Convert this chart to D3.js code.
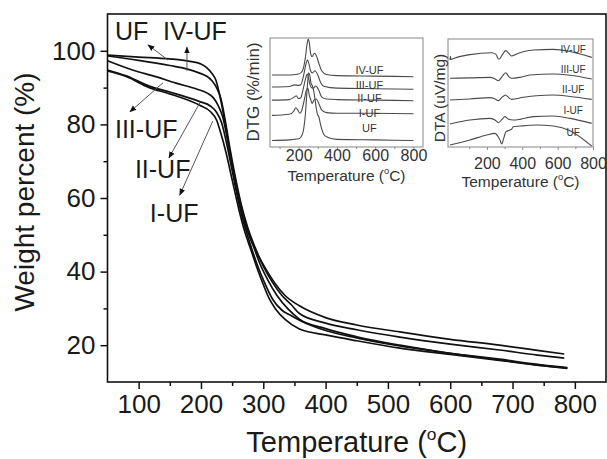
<!DOCTYPE html>
<html><head><meta charset="utf-8">
<script src="https://cdnjs.cloudflare.com/ajax/libs/d3/7.8.5/d3.min.js"></script>
<style>body{margin:0;background:#fff} svg{display:block} text{font-family:"Liberation Sans",Arial,sans-serif}</style>
</head><body><svg id="c" width="607" height="459"></svg>
<script>
// ---------- data: main TGA curves [T (°C), weight %] ----------
const tgaUF = [[50,98.8],[100,98.3],[150,97.8],[180,97.2],[200,96.4],[210,95.3],[217,94],[224,92],[230,88],[237,82],[244,75],[252,67],[260,60],[269,54],[279,49],[290,45],[303,41],[318,37],[335,33.5],[358,30.7],[400,27.5],[450,25.5],[519,23.6],[600,21.6],[679,20],[740,18.6],[783,17.6]];
const tgaIV = [[50,98.6],[100,97.4],[150,96],[177,95.1],[200,93.8],[210,93],[218,91.8],[225,90],[232,87],[239,81],[247,73],[256,65],[265,58],[275,52],[287,46.5],[300,41.5],[315,37],[330,33.5],[345,31],[358,28.6],[400,26],[450,24.2],[519,22.2],[600,20.3],[679,18.7],[740,17.3],[783,16.5]];
const tgaIII = [[50,97.3],[90,94.8],[129,92.9],[160,91.2],[193,89.6],[210,88.5],[220,87.2],[228,85],[235,82],[243,75.5],[252,67.5],[262,59.5],[272,53],[283,47.5],[295,42],[308,37.5],[322,33.5],[340,29.8],[358,27.1],[400,24.5],[450,22.3],[519,20],[600,17.8],[679,16.2],[740,14.8],[788,13.9]];
const tgaII = [[50,94.8],[80,93.2],[117,90.4],[150,88.8],[198,86.2],[215,85],[225,83.3],[233,80.5],[241,75],[250,67.5],[259,60],[269,53],[279,47.5],[290,42],[302,37],[315,32.5],[330,29.5],[345,28],[358,26.8],[400,24],[450,22],[519,19.8],[600,17.8],[679,16],[740,14.6],[788,13.8]];
const tgaI = [[50,94.5],[80,93],[117,90],[150,88.3],[198,85.2],[215,83.5],[225,81.2],[232,77.5],[240,72.5],[250,65],[260,57.5],[270,51],[280,46],[290,41],[300,36.5],[310,32.5],[320,29.8],[335,27],[358,24.4],[400,22.8],[450,21.2],[519,19.2],[600,17.5],[679,15.9],[740,14.6],[788,13.7]];
const tgaSeries = [tgaUF, tgaIV, tgaIII, tgaII, tgaI];
const xTicks = [100,200,300,400,500,600,700,800];
const xMinor = [150,250,350,450,550,650,750];
const yTicks = [20,40,60,80,100];
const yMinor = [30,50,70,90];

// ---------- labels and arrows (data coords) ----------
const labelNames = ["UF","IV-UF","III-UF","II-UF","I-UF"];
const labelAt = [[62,102.9],[139,102.9],[62,76.3],[94,65.4],[118,53.5]];
const arrowFrom = [[147,97.5],[177.5,94.5],[139,91.3],[198,85.8],[219,80.9]];
const arrowTo = [[115,101.6],[177.5,101.0],[86,83.4],[148.6,70.9],[166,60.8]];

// ---------- DTG inset [T, offset value] ----------
const dtgUF = [[60,6],[150,6.5],[200,7.5],[220,12],[235,30],[245,55],[252,68],[258,66],[265,58],[272,56],[280,50],[290,38],[298,30],[305,28],[315,20],[330,12],[350,9],[400,7],[600,6.5],[800,6]];
const dtgI = [[60,29],[150,30],[175,33],[185,36],[195,34],[205,31],[215,33],[228,42],[240,52],[248,54],[256,47],[262,44],[270,40],[280,43],[292,44],[305,40],[320,34],[345,31.5],[400,31],[600,31],[800,30.5]];
const dtgII = [[60,43],[150,43.5],[178,46],[188,47],[198,44.5],[210,45],[222,52],[235,62],[245,67],[252,63],[258,58],[265,55],[275,54],[290,56],[305,52],[320,46],[345,44],[400,43.5],[600,43],[800,42.5]];
const dtgIII = [[60,55],[150,55.5],[180,57],[195,56.5],[210,57],[225,65],[238,76],[246,80],[254,76],[262,70],[272,68],[285,70],[300,66],[315,59],[335,55.5],[400,54],[600,53.5],[800,53]];
const dtgIV = [[60,66],[150,66],[200,67],[220,70],[235,82],[245,96],[250,99],[256,95],[262,86],[270,83],[282,86],[292,84],[305,77],[320,70],[345,66.5],[400,65.5],[600,65],[800,64.5]];
const dtgSeries = [dtgIV, dtgIII, dtgII, dtgI, dtgUF];
const insetNames = ["IV-UF","III-UF","II-UF","I-UF","UF"];
const dtgLabelAt = [[570,67],[570,53],[570,41],[570,27.5],[570,13.8]];

// ---------- DTA inset ----------
const dtaIV = [[-9,80.6],[-6,84],[-4,81],[20,82.5],[104,85.5],[227,87.3],[250,86],[268,81.2],[290,86],[306,89.2],[325,86.5],[340,84.3],[369,86.1],[400,88],[462,89.8],[576,90.4],[670,88.5],[793,83]];
const dtaIII = [[-9,63.6],[104,64],[218,64.5],[246,63],[265,61.4],[285,65],[306,68.8],[325,65],[340,63.6],[387,64.5],[444,66.7],[576,67.6],[670,66.5],[793,63]];
const dtaII = [[-9,43.5],[104,44.5],[218,45.7],[246,44.5],[265,42.9],[285,46],[306,48.1],[325,45.5],[340,44.1],[406,46],[480,47.5],[576,48.1],[670,46.8],[793,44.1]];
const dtaI = [[-9,21.3],[104,25],[218,26.5],[246,25],[265,22.5],[285,25.5],[302,28.1],[320,26],[349,25],[387,25.6],[462,28.1],[576,28.7],[670,26.5],[793,21.9]];
const dtaUF = [[-9,1.9],[104,6.5],[199,11.1],[246,12.6],[262,10],[275,6],[284,2.8],[295,8],[308,14.2],[331,15.7],[340,16.5],[349,18.8],[387,19.4],[482,20.4],[576,19.4],[670,15.1],[793,0.8]];
const dtaSeries = [dtaIV, dtaIII, dtaII, dtaI, dtaUF];
const dtaLabelAt = [[688,87],[688,68.5],[688,50],[688,30.5],[688,10]];
const insetTicks = [200,400,600,800];
const insetMinor = [100,300,500,700];

const svg = d3.select("#c");
const FONT = '"Liberation Sans",Arial,sans-serif';

// ---------- main chart ----------
const x = d3.scaleLinear().domain([50,850]).range([107.5,606]);
const y = d3.scaleLinear().domain([10,110]).range([382,14]);

svg.append("defs").append("marker").attr("id","ah").attr("viewBox","0 0 10 10")
  .attr("refX",9).attr("refY",5).attr("markerWidth",7).attr("markerHeight",7)
  .attr("markerUnits","userSpaceOnUse").attr("orient","auto")
  .append("path").attr("d","M0,1 L10,5 L0,9 Z").attr("fill","#111");

const line = d3.line().x(d=>x(d[0])).y(d=>y(d[1])).curve(d3.curveMonotoneX);
svg.append("g").selectAll("path").data(tgaSeries).join("path")
  .attr("d",line).attr("fill","none").attr("stroke","#111").attr("stroke-width",1.7);

// frame
svg.append("rect").attr("x",x(50)).attr("y",y(110)).attr("width",x(850)-x(50)).attr("height",y(10)-y(110))
  .attr("fill","none").attr("stroke","#111").attr("stroke-width",1.6);

const gx = svg.append("g").attr("transform",`translate(0,${y(10)})`)
  .call(d3.axisBottom(x).tickValues(xTicks).tickSize(7).tickSizeOuter(0).tickPadding(6));
const gxm = svg.append("g").attr("transform",`translate(0,${y(10)})`)
  .call(d3.axisBottom(x).tickValues(xMinor).tickSize(4).tickSizeOuter(0).tickFormat(""));
const gy = svg.append("g").attr("transform",`translate(${x(50)},0)`)
  .call(d3.axisLeft(y).tickValues(yTicks).tickSize(7).tickSizeOuter(0).tickPadding(5));
const gym = svg.append("g").attr("transform",`translate(${x(50)},0)`)
  .call(d3.axisLeft(y).tickValues(yMinor).tickSize(4).tickSizeOuter(0).tickFormat(""));
[gx,gxm,gy,gym].forEach(g=>{
  g.select(".domain").remove();
  g.selectAll("line").attr("stroke","#111").attr("stroke-width",1.5);
  g.selectAll("text").attr("font-family",FONT).attr("font-size",26).attr("fill","#1a1a1a");
});

// axis titles
function tempTitle(sel, size){
  sel.append("tspan").text("Temperature (");
  sel.append("tspan").text("o").attr("font-size",size*0.6).attr("dy",-size*0.42);
  sel.append("tspan").text("C)").attr("dy",size*0.42);
}
svg.append("text").attr("x",(x(50)+x(850))/2).attr("y",452).attr("text-anchor","middle")
  .attr("font-size",29).attr("fill","#1a1a1a").call(tempTitle,29);
svg.append("text").attr("transform",`translate(34,192) rotate(-90)`).attr("text-anchor","middle")
  .attr("font-size",28).attr("fill","#1a1a1a").text("Weight percent (%)");

// labels & arrows
svg.append("g").selectAll("line").data(arrowFrom).join("line")
  .attr("x1",d=>x(d[0])).attr("y1",d=>y(d[1]))
  .attr("x2",(d,i)=>x(arrowTo[i][0])).attr("y2",(d,i)=>y(arrowTo[i][1]))
  .attr("stroke","#555").attr("stroke-width",1).attr("marker-end","url(#ah)");
svg.append("g").selectAll("text").data(labelNames).join("text")
  .attr("x",(d,i)=>x(labelAt[i][0])).attr("y",(d,i)=>y(labelAt[i][1]))
  .attr("font-size",25).attr("fill","#1a1a1a").text(d=>d);

// ---------- inset helper ----------
function inset(opts){
  const ix = d3.scaleLinear().domain(opts.xd).range([opts.x0,opts.x1]);
  const iy = d3.scaleLinear().domain([0,100]).range([opts.y1,opts.y0]);
  const g = svg.append("g");
  g.append("rect").attr("x",opts.x0).attr("y",opts.y0).attr("width",opts.x1-opts.x0).attr("height",opts.y1-opts.y0)
    .attr("fill","#fff").attr("stroke","#9a9a9a").attr("stroke-width",1.2);
  const il = d3.line().x(d=>ix(d[0])).y(d=>iy(d[1])).curve(d3.curveMonotoneX);
  g.selectAll("path.s").data(opts.series).join("path").attr("class","s")
    .attr("d",il).attr("fill","none").attr("stroke","#4a4a4a").attr("stroke-width",1.1);
  const ax = g.append("g").attr("transform",`translate(0,${opts.y1})`)
    .call(d3.axisBottom(ix).tickValues(insetTicks).tickSize(3).tickSizeOuter(0).tickPadding(opts.pad));
  const axm = g.append("g").attr("transform",`translate(0,${opts.y1})`)
    .call(d3.axisBottom(ix).tickValues(insetMinor).tickSize(2).tickSizeOuter(0).tickFormat(""));
  [ax,axm].forEach(a=>{a.select(".domain").remove(); a.selectAll("line").attr("stroke","#8a8a8a");});
  ax.selectAll("text").attr("font-family",FONT).attr("font-size",16).attr("fill","#333");
  g.selectAll("text.lab").data(insetNames).join("text").attr("class","lab")
    .attr("x",(d,i)=>ix(opts.labs[i][0])).attr("y",(d,i)=>iy(opts.labs[i][1]))
    .attr("text-anchor","middle").attr("font-size",opts.lfs).attr("fill","#333").text(d=>d);
  g.append("text").attr("x",(opts.x0+opts.x1)/2).attr("y",opts.ty).attr("text-anchor","middle")
    .attr("font-size",15.5).attr("fill","#333").call(tempTitle,15.5);
  g.append("text").attr("transform",`translate(${opts.yx},${opts.yy}) rotate(-90)`).attr("text-anchor","middle")
    .attr("font-size",opts.yfs).attr("fill","#333").text(opts.ylab);
}
inset({xd:[50,850],x0:270,x1:423,y0:38,y1:147,series:dtgSeries,labs:dtgLabelAt,lfs:11,pad:0,ty:181,
  yx:259,yy:92,yfs:17,ylab:"DTG (%/min)"});
inset({xd:[-20,800],x0:448,x1:593,y0:39,y1:147,series:dtaSeries,labs:dtaLabelAt,lfs:10,pad:8,ty:187,
  yx:445,yy:98,yfs:15.5,ylab:"DTA (uV/mg)"});
</script></body></html>
